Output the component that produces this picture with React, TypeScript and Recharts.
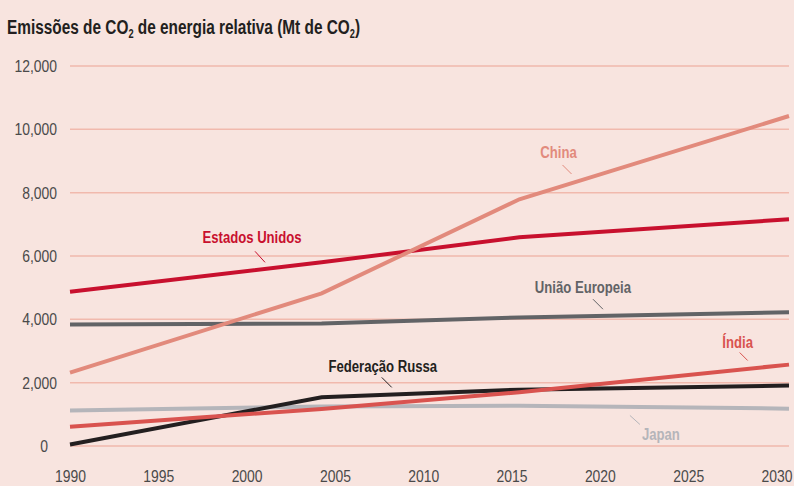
import { LineChart, Line, XAxis, YAxis, CartesianGrid, ReferenceDot } from 'recharts';

// emissions in Mt CO2
const years = [1990, 2004, 2015, 2030];
const china = [2320, 4820, 7790, 10420];
const usa = [4870, 5800, 6590, 7160];
const eu = [3840, 3870, 4060, 4220];
const india = [610, 1170, 1700, 2570];
const russia = [50, 1540, 1780, 1910];
const japan = [1120, 1250, 1270, 1180];

const xTicks = [1990, 1995, 2000, 2005, 2010, 2015, 2020, 2025, 2030];
const yTicks = [0, 2000, 4000, 6000, 8000, 10000, 12000];

const data = years.map((year, i) => ({
  year,
  china: china[i],
  usa: usa[i],
  eu: eu[i],
  india: india[i],
  russia: russia[i],
  japan: japan[i],
}));

// no narrow face installed, so Liberation Sans squeezed horizontally stands in for it
const FONT = '"Liberation Sans", Arial, sans-serif';
const NARROW = 0.82;
const BG = '#f8e4df';
const GRID = '#f1b9ad';
const TICK = '#4a4a4a';

const colors = {
  china: '#e28a7c',
  usa: '#c8102e',
  eu: '#626366',
  india: '#d9534f',
  russia: '#231f20',
  japan: '#b5b5ba',
};

// series labels: anchor = end of the leader line near the series, text offset from it
const labels = [
  { text: 'China', year: 2017.9, value: 8590, lx: -9, ly: -9, tx: -13, ty: -16, color: colors.china },
  { text: 'Estados Unidos', year: 2000.85, value: 5800, lx: -10, ly: -11, tx: -13, ty: -19, color: colors.usa },
  { text: 'União Europeia', year: 2019.65, value: 4320, lx: -10, ly: -10, tx: -20, ty: -16, color: colors.eu },
  { text: 'Índia', year: 2027.7, value: 2700, lx: -8, ly: -8, tx: -10, ty: -13, color: colors.india },
  { text: 'Federação Russa', year: 2007.9, value: 1850, lx: -10, ly: -10, tx: -9, ty: -15, color: colors.russia },
  { text: 'Japan', year: 2021.15, value: 965, lx: 10, ly: 9, tx: 31, ty: 25, color: colors.japan },
];

function Narrow({ x, y, squeeze = NARROW, children, ...rest }: any) {
  return (
    <text transform={`translate(${x},${y}) scale(${squeeze},1)`} fontFamily={FONT} {...rest}>
      {children}
    </text>
  );
}

function Annotation({ cx, cy, item }: any) {
  if (cx == null || cy == null) return null;
  return (
    <g>
      <line x1={cx} y1={cy} x2={cx + item.lx} y2={cy + item.ly} stroke={item.color} strokeWidth={1} />
      <Narrow x={cx + item.tx} y={cy + item.ty} textAnchor="middle" fill={item.color} fontWeight="bold" fontSize={16}>
        {item.text}
      </Narrow>
    </g>
  );
}

// labels in the reference sit a little tighter than the ticks themselves
function XTick({ x, y, payload }: any) {
  const nx = 70.5 + (x - 70) * (706.5 / 719);
  return (
    <Narrow x={nx} y={y} dy="0.71em" textAnchor="middle" fill={TICK} fontSize={17}>
      {payload.value}
    </Narrow>
  );
}

function YTick({ x, y, payload }: any) {
  const shift = payload.value === 0 ? -9 : 0;
  return (
    <Narrow x={x + shift} y={y} dy="0.355em" textAnchor="end" fill={TICK} fontSize={17}>
      {payload.value.toLocaleString('en-US')}
    </Narrow>
  );
}

export default function App() {
  return (
    <div style={{ position: 'absolute', left: 0, top: 0, width: 794, height: 486, background: BG }}>
      <svg width={794} height={40} style={{ position: 'absolute', left: 0, top: 0 }}>
        <Narrow x={7} y={34} squeeze={0.77} fontWeight="bold" fontSize={20} fill="#231f20">
          Emissões de CO<tspan fontSize={12} dy={4}>2</tspan>
          <tspan dy={-4}> de energia relativa (Mt de CO</tspan>
          <tspan fontSize={12} dy={4}>2</tspan>
          <tspan dy={-4}>)</tspan>
        </Narrow>
      </svg>
      <LineChart
        width={794}
        height={486}
        data={data}
        margin={{ top: 66, right: 5, bottom: 10, left: 0 }}
        style={{ position: 'absolute', left: 0, top: 0 }}
      >
        <CartesianGrid vertical={false} stroke={GRID} strokeWidth={1.5} />
        <XAxis
          dataKey="year"
          type="number"
          domain={[1990, 2030]}
          ticks={xTicks}
          interval={0}
          axisLine={false}
          tickLine={false}
          tickMargin={18}
          height={30}
          tick={<XTick />}
        />
        <YAxis
          domain={[0, 12000]}
          ticks={yTicks}
          width={70}
          axisLine={false}
          tickLine={false}
          tickMargin={7}
          tick={<YTick />}
        />
        <Line dataKey="japan" stroke={colors.japan} strokeWidth={4} dot={false} isAnimationActive={false} />
        <Line dataKey="eu" stroke={colors.eu} strokeWidth={4} dot={false} isAnimationActive={false} />
        <Line dataKey="usa" stroke={colors.usa} strokeWidth={4} dot={false} isAnimationActive={false} />
        <Line dataKey="russia" stroke={colors.russia} strokeWidth={4} dot={false} isAnimationActive={false} />
        <Line dataKey="india" stroke={colors.india} strokeWidth={4} dot={false} isAnimationActive={false} />
        <Line dataKey="china" stroke={colors.china} strokeWidth={4} dot={false} isAnimationActive={false} />
        {labels.map((item) => (
          <ReferenceDot
            key={item.text}
            x={item.year}
            y={item.value}
            r={0}
            ifOverflow="visible"
            shape={(p: any) => <Annotation {...p} item={item} />}
          />
        ))}
      </LineChart>
    </div>
  );
}
